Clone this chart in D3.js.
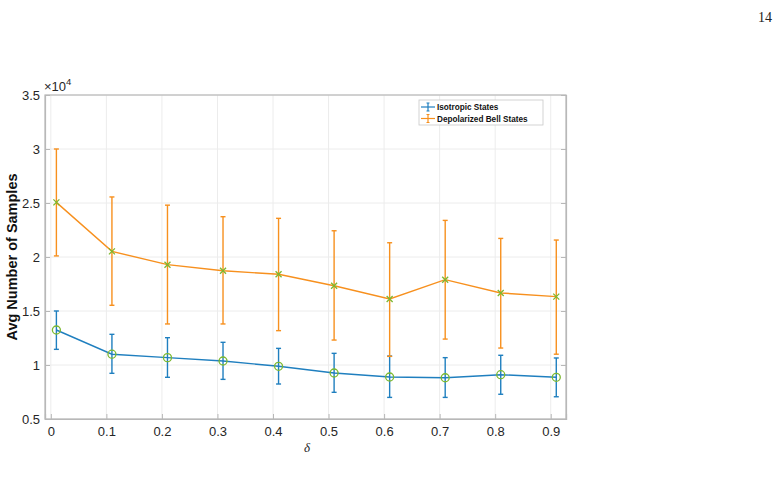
<!DOCTYPE html>
<html>
<head>
<meta charset="utf-8">
<script src="https://cdn.jsdelivr.net/npm/d3@7"></script>
<style>
  body { margin: 0; background: #fff; }
  svg { display: block; font-family: "Liberation Sans", Arial, sans-serif; }
</style>
</head>
<body>
<svg id="chart" width="783" height="480"></svg>
<script>
// data, values in units of 1e4
var deltas = [0.01, 0.11, 0.21, 0.31, 0.41, 0.51, 0.61, 0.71, 0.81, 0.91];
var isoMean  = [1.324, 1.10, 1.068, 1.037, 0.988, 0.926, 0.889, 0.882, 0.91, 0.886];
var isoLow   = [1.145, 0.923, 0.886, 0.867, 0.824, 0.747, 0.70, 0.70, 0.729, 0.706];
var isoHigh  = [1.50, 1.284, 1.253, 1.21, 1.154, 1.108, 1.083, 1.068, 1.09, 1.065];
var belMean  = [2.506, 2.052, 1.929, 1.873, 1.84, 1.734, 1.611, 1.79, 1.667, 1.633];
var belLow   = [2.01, 1.553, 1.38, 1.38, 1.318, 1.231, 1.08, 1.24, 1.157, 1.10];
var belHigh  = [3.0, 2.556, 2.48, 2.373, 2.358, 2.243, 2.132, 2.339, 2.172, 2.157];
var xTicks = [0, 0.1, 0.2, 0.3, 0.4, 0.5, 0.6, 0.7, 0.8, 0.9];
var yTicks = [0.5, 1, 1.5, 2, 2.5, 3, 3.5];
var seriesNames = ["Isotropic States", "Depolarized Bell States"];

var svg = d3.select("#chart");
var pLeft = 45, pRight = 566, pTop = 95, pBottom = 419;

var x = d3.scaleLinear().domain([-0.0105, 0.9275]).range([pLeft, pRight]);
var y = d3.scaleLinear().domain([0.5, 3.5]).range([pBottom, pTop]);

var blue = "#1f7fbf", orange = "#f7901e", green = "#7cb82f";
var axisCol = "#b8b8b8", textCol = "#262626";

// page number
svg.append("text").attr("x", 772).attr("y", 22).attr("text-anchor", "end")
  .attr("font-family", "'Liberation Serif', 'DejaVu Serif', serif")
  .attr("font-size", 14).attr("fill", "#222").text("14");

// grid
var g = svg.append("g");
g.selectAll(".gx").data(xTicks).enter().append("line")
  .attr("x1", d => x(d)).attr("x2", d => x(d)).attr("y1", pTop).attr("y2", pBottom)
  .attr("stroke", "#ececec").attr("stroke-width", 1);
g.selectAll(".gy").data(yTicks).enter().append("line")
  .attr("x1", pLeft).attr("x2", pRight).attr("y1", d => y(d)).attr("y2", d => y(d))
  .attr("stroke", "#ececec").attr("stroke-width", 1);

// axes box
g.append("rect").attr("x", pLeft).attr("y", pTop).attr("width", pRight - pLeft).attr("height", pBottom - pTop)
  .attr("fill", "none").attr("stroke", axisCol).attr("stroke-width", 1.2);

var xAxis = d3.axisBottom(x).tickValues(xTicks).tickSize(-5).tickPadding(8)
  .tickFormat(d => d === 0 ? "0" : d3.format(".1f")(d));
var xg = svg.append("g").attr("transform", "translate(0," + pBottom + ")").call(xAxis);
var yAxis = d3.axisLeft(y).tickValues(yTicks).tickSize(-5).tickPadding(5)
  .tickFormat(d => d % 1 === 0 ? String(d) : d3.format(".1f")(d));
var yg = svg.append("g").attr("transform", "translate(" + pLeft + ",0)").call(yAxis);
var yr = svg.append("g").attr("transform", "translate(" + pRight + ",0)")
  .call(d3.axisRight(y).tickValues(yTicks).tickSize(-5).tickFormat(""));
[xg, yg, yr].forEach(function(a){
  a.select(".domain").attr("stroke", axisCol).attr("stroke-width", 1.2);
  a.selectAll(".tick line").attr("stroke", axisCol);
  a.selectAll(".tick text").attr("fill", textCol).attr("font-size", 13)
    .attr("font-family", "'Liberation Sans', Arial, sans-serif");
});

// exponent label
var ex = svg.append("text").attr("x", pLeft - 1).attr("y", pTop - 4).attr("fill", textCol)
  .attr("font-size", 13);
ex.append("tspan").text("\u00d710");
ex.append("tspan").attr("dy", -6).attr("font-size", 9.5).text("4");

// axis labels
svg.append("text").attr("transform", "translate(17," + ((pTop + pBottom) / 2) + ") rotate(-90)")
  .attr("text-anchor", "middle").attr("font-weight", "bold").attr("font-size", 14.5)
  .attr("fill", "#111").text("Avg Number of Samples");
svg.append("text").attr("x", 307).attr("y", 452).attr("text-anchor", "middle")
  .attr("font-family", "'Liberation Serif', serif").attr("font-style", "italic")
  .attr("font-size", 13).attr("fill", textCol).text("\u03b4");

// series
var series = [
  {mean: isoMean, low: isoLow, high: isoHigh, color: blue, marker: "o"},
  {mean: belMean, low: belLow, high: belHigh, color: orange, marker: "x"}
];
var line = d3.line().x(d => x(d[0])).y(d => y(d[1]));

series.forEach(function(s){
  var pts = deltas.map((d, i) => [d, s.mean[i], s.low[i], s.high[i]]);
  var sg = svg.append("g");
  sg.selectAll(".eb").data(pts).enter().append("line")
    .attr("x1", d => x(d[0])).attr("x2", d => x(d[0]))
    .attr("y1", d => y(d[2])).attr("y2", d => y(d[3]))
    .attr("stroke", s.color).attr("stroke-width", 1.4);
  sg.selectAll(".capt").data(pts).enter().append("line")
    .attr("x1", d => x(d[0]) - 2.5).attr("x2", d => x(d[0]) + 2.5)
    .attr("y1", d => y(d[3])).attr("y2", d => y(d[3]))
    .attr("stroke", s.color).attr("stroke-width", 1.4);
  sg.selectAll(".capb").data(pts).enter().append("line")
    .attr("x1", d => x(d[0]) - 2.5).attr("x2", d => x(d[0]) + 2.5)
    .attr("y1", d => y(d[2])).attr("y2", d => y(d[2]))
    .attr("stroke", s.color).attr("stroke-width", 1.4);
  sg.append("path").datum(pts).attr("d", line).attr("fill", "none")
    .attr("stroke", s.color).attr("stroke-width", 1.4);
  if (s.marker === "o") {
    sg.selectAll(".mk").data(pts).enter().append("circle")
      .attr("cx", d => x(d[0])).attr("cy", d => y(d[1])).attr("r", 4)
      .attr("fill", "none").attr("stroke", green).attr("stroke-width", 1.3);
  } else {
    sg.selectAll(".mk").data(pts).enter().append("path")
      .attr("transform", d => "translate(" + x(d[0]) + "," + y(d[1]) + ")")
      .attr("d", "M-3,-3L3,3M-3,3L3,-3")
      .attr("stroke", green).attr("stroke-width", 1.3);
  }
});

// legend
var lg = svg.append("g").attr("transform", "translate(419,100)");
lg.append("rect").attr("width", 124).attr("height", 25).attr("fill", "#fff")
  .attr("stroke", "#c8c8c8").attr("stroke-width", 0.8);
seriesNames.forEach(function(name, i){
  var yy = 7 + i * 11.5;
  var c = series[i].color;
  lg.append("line").attr("x1", 2).attr("x2", 16).attr("y1", yy).attr("y2", yy).attr("stroke", c).attr("stroke-width", 1.2);
  lg.append("line").attr("x1", 9).attr("x2", 9).attr("y1", yy - 4).attr("y2", yy + 4).attr("stroke", c).attr("stroke-width", 1.2);
  lg.append("line").attr("x1", 7.5).attr("x2", 10.5).attr("y1", yy - 4).attr("y2", yy - 4).attr("stroke", c);
  lg.append("line").attr("x1", 7.5).attr("x2", 10.5).attr("y1", yy + 4).attr("y2", yy + 4).attr("stroke", c);
  lg.append("text").attr("x", 18).attr("y", yy + 3).attr("font-size", 8.2).attr("font-weight", "bold")
    .attr("fill", "#111").text(name);
});
</script>
</body>
</html>
